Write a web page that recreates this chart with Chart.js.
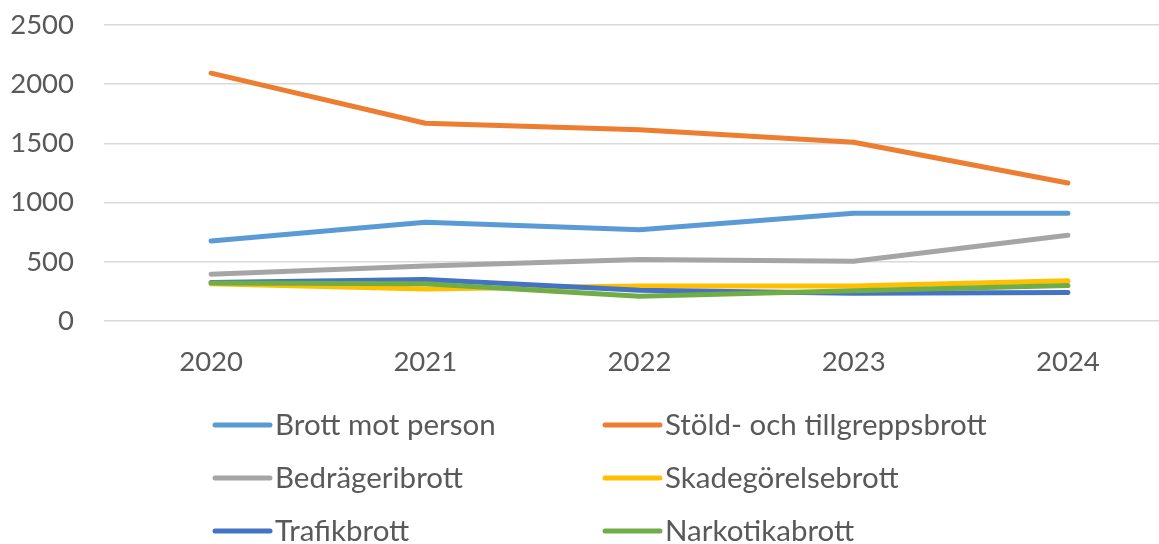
<!DOCTYPE html>
<html>
<head>
<meta charset="utf-8">
<script src="https://cdn.jsdelivr.net/npm/chart.js@4"></script>
<style>
  html, body { margin: 0; padding: 0; background: #fff; overflow: hidden; }
  #wrap { width: 1159px; height: 544px; overflow: hidden; }
</style>
</head>
<body>
<div id="wrap"><canvas id="chart" width="1180" height="544"></canvas></div>
<script>
// data
const years = ['2020', '2021', '2022', '2023', '2024'];
const brottMotPerson = [675, 834, 770, 910, 910];
const stold = [2093, 1670, 1615, 1510, 1165];
const bedrageri = [395, 465, 520, 505, 725];
const skadegorelse = [315, 270, 295, 295, 340];
const trafik = [325, 350, 260, 235, 240];
const narkotika = [320, 315, 210, 255, 300];

const seriesNames = ['Brott mot person', 'Stöld- och tillgreppsbrott', 'Bedrägeribrott',
  'Skadegörelsebrott', 'Trafikbrott', 'Narkotikabrott'];
const seriesData = [brottMotPerson, stold, bedrageri, skadegorelse, trafik, narkotika];
const seriesColors = ['#5B9BD5', '#ED7D31', '#A5A5A5', '#FFC000', '#4472C4', '#70AD47'];

const FONT = 'Lato, "Open Sans", sans-serif';
const TEXT = '#595959';

// two-column legend under the plot, like the spreadsheet one
const twoColLegend = {
  id: 'twoColLegend',
  afterDraw(chart) {
    const ctx = chart.ctx;
    const cols = [215, 605];
    const rows = [425, 478, 531];
    ctx.save();
    ctx.font = '29.5px ' + FONT;
    ctx.textBaseline = 'middle';
    ctx.fillStyle = TEXT;
    chart.data.datasets.forEach((ds, i) => {
      const x = cols[i % 2];
      const y = rows[Math.floor(i / 2)];
      ctx.strokeStyle = ds.borderColor;
      ctx.lineWidth = 5;
      ctx.lineCap = 'round';
      ctx.beginPath();
      ctx.moveTo(x, y);
      ctx.lineTo(x + 55, y);
      ctx.stroke();
      ctx.fillText(ds.label, x + 60, y);
    });
    ctx.restore();
  }
};

const datasets = seriesNames.map((name, i) => ({
  label: name,
  data: seriesData[i],
  borderColor: seriesColors[i],
  backgroundColor: seriesColors[i],
  borderWidth: 5,
  borderCapStyle: 'round',
  borderJoinStyle: 'round',
  pointRadius: 0,
  tension: 0,
  order: seriesNames.length - i
}));

new Chart(document.getElementById('chart'), {
  type: 'line',
  data: { labels: years, datasets: datasets },
  options: {
    responsive: false,
    animation: false,
    layout: { padding: { top: 25, right: 5, bottom: 140, left: 0 } },
    plugins: {
      legend: { display: false },
      tooltip: { enabled: false }
    },
    scales: {
      x: {
        offset: true,
        grid: { display: false, drawTicks: false },
        border: { display: false },
        ticks: { color: TEXT, font: { family: FONT, size: 27.5 }, padding: 25, maxRotation: 0 }
      },
      y: {
        min: 0,
        max: 2500,
        afterFit(scale) {
          scale.width = 104;
          scale.paddingTop = 0;
          scale.paddingBottom = 0;
        },
        grid: { color: '#D9D9D9', lineWidth: 1.5, drawTicks: false },
        border: { display: false },
        ticks: {
          stepSize: 500, color: TEXT, font: { family: FONT, size: 27.5 }, padding: 30,
          callback: v => String(v)
        }
      }
    }
  },
  plugins: [twoColLegend]
});
</script>
</body>
</html>
